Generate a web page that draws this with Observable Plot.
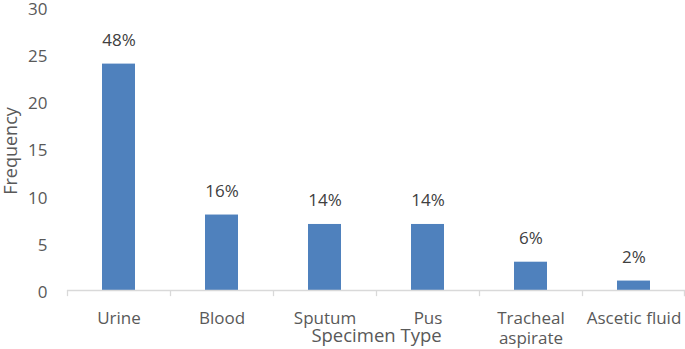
<!DOCTYPE html>
<html>
<head>
<meta charset="utf-8">
<script src="https://cdn.jsdelivr.net/npm/d3@7"></script>
<script src="https://cdn.jsdelivr.net/npm/@observablehq/plot@0.6"></script>
<style>
  html, body { margin: 0; padding: 0; background: #fff; }
  #chart svg { display: block; }
</style>
</head>
<body>
<div id="chart"></div>
<script>
const categories = ["Urine", "Blood", "Sputum", "Pus", "Tracheal aspirate", "Ascetic fluid"];
const frequencies = [24, 8, 7, 7, 3, 1];
const percentLabels = ["48%", "16%", "14%", "14%", "6%", "2%"];
const yTicks = [0, 5, 10, 15, 20, 25, 30];

const data = categories.map((c, i) => ({category: c, value: frequencies[i], label: percentLabels[i]}));

const W = 685, H = 349;
const mL = 67, mR = 0, mT = 7, mB = 59;
const bw = (W - mL - mR) / categories.length;
const font = "'Open Sans', sans-serif";
const grey = "#595959";

const plot = Plot.plot({
  width: W,
  height: H,
  marginLeft: mL,
  marginRight: mR,
  marginTop: mT,
  marginBottom: mB,
  style: {fontFamily: font, fontSize: "17px", color: grey, background: "#fff", overflow: "visible"},
  x: {domain: categories, paddingInner: 0.68, paddingOuter: 0.34, label: null},
  y: {domain: [0, 30], label: null},
  marks: [
    Plot.barY(data, {x: "category", y: "value", fill: "#4f81bd"}),
    Plot.ruleY([0], {stroke: "#d9d9d9", strokeWidth: 1.3}),
    // category boundary ticks
    Plot.ruleX(categories, {x: d => d, dx: -bw / 2, y1: 0, y2: -0.65, stroke: "#d9d9d9", strokeWidth: 1.3}),
    Plot.ruleX([categories[categories.length - 1]], {x: d => d, dx: bw / 2 - 1, y1: 0, y2: -0.65, stroke: "#d9d9d9", strokeWidth: 1.3}),
    Plot.text(data, {x: "category", y: "value", text: "label", dy: -18, lineAnchor: "bottom", fill: "#404040", fontSize: 17}),
    Plot.axisY({ticks: yTicks, tickSize: 0, tickPadding: 20, dy: 2, fontSize: 17, fill: grey}),
    Plot.axisX({tickSize: 0, tickPadding: 19, fontSize: 17, lineHeight: 1.18, fill: grey, lineAnchor: "top",
      tickFormat: d => d === "Tracheal aspirate" ? "Tracheal\naspirate" : d}),
    Plot.text(["Frequency"], {frameAnchor: "left", textAnchor: "middle", lineAnchor: "middle", rotate: -90, dx: -56, dy: 2, fontSize: 18, fill: grey}),
    Plot.text(["Specimen Type"], {frameAnchor: "bottom", textAnchor: "middle", lineAnchor: "middle", dy: 46, fontSize: 18.5, fill: grey})
  ]
});
document.getElementById("chart").appendChild(plot);
</script>
</body>
</html>
